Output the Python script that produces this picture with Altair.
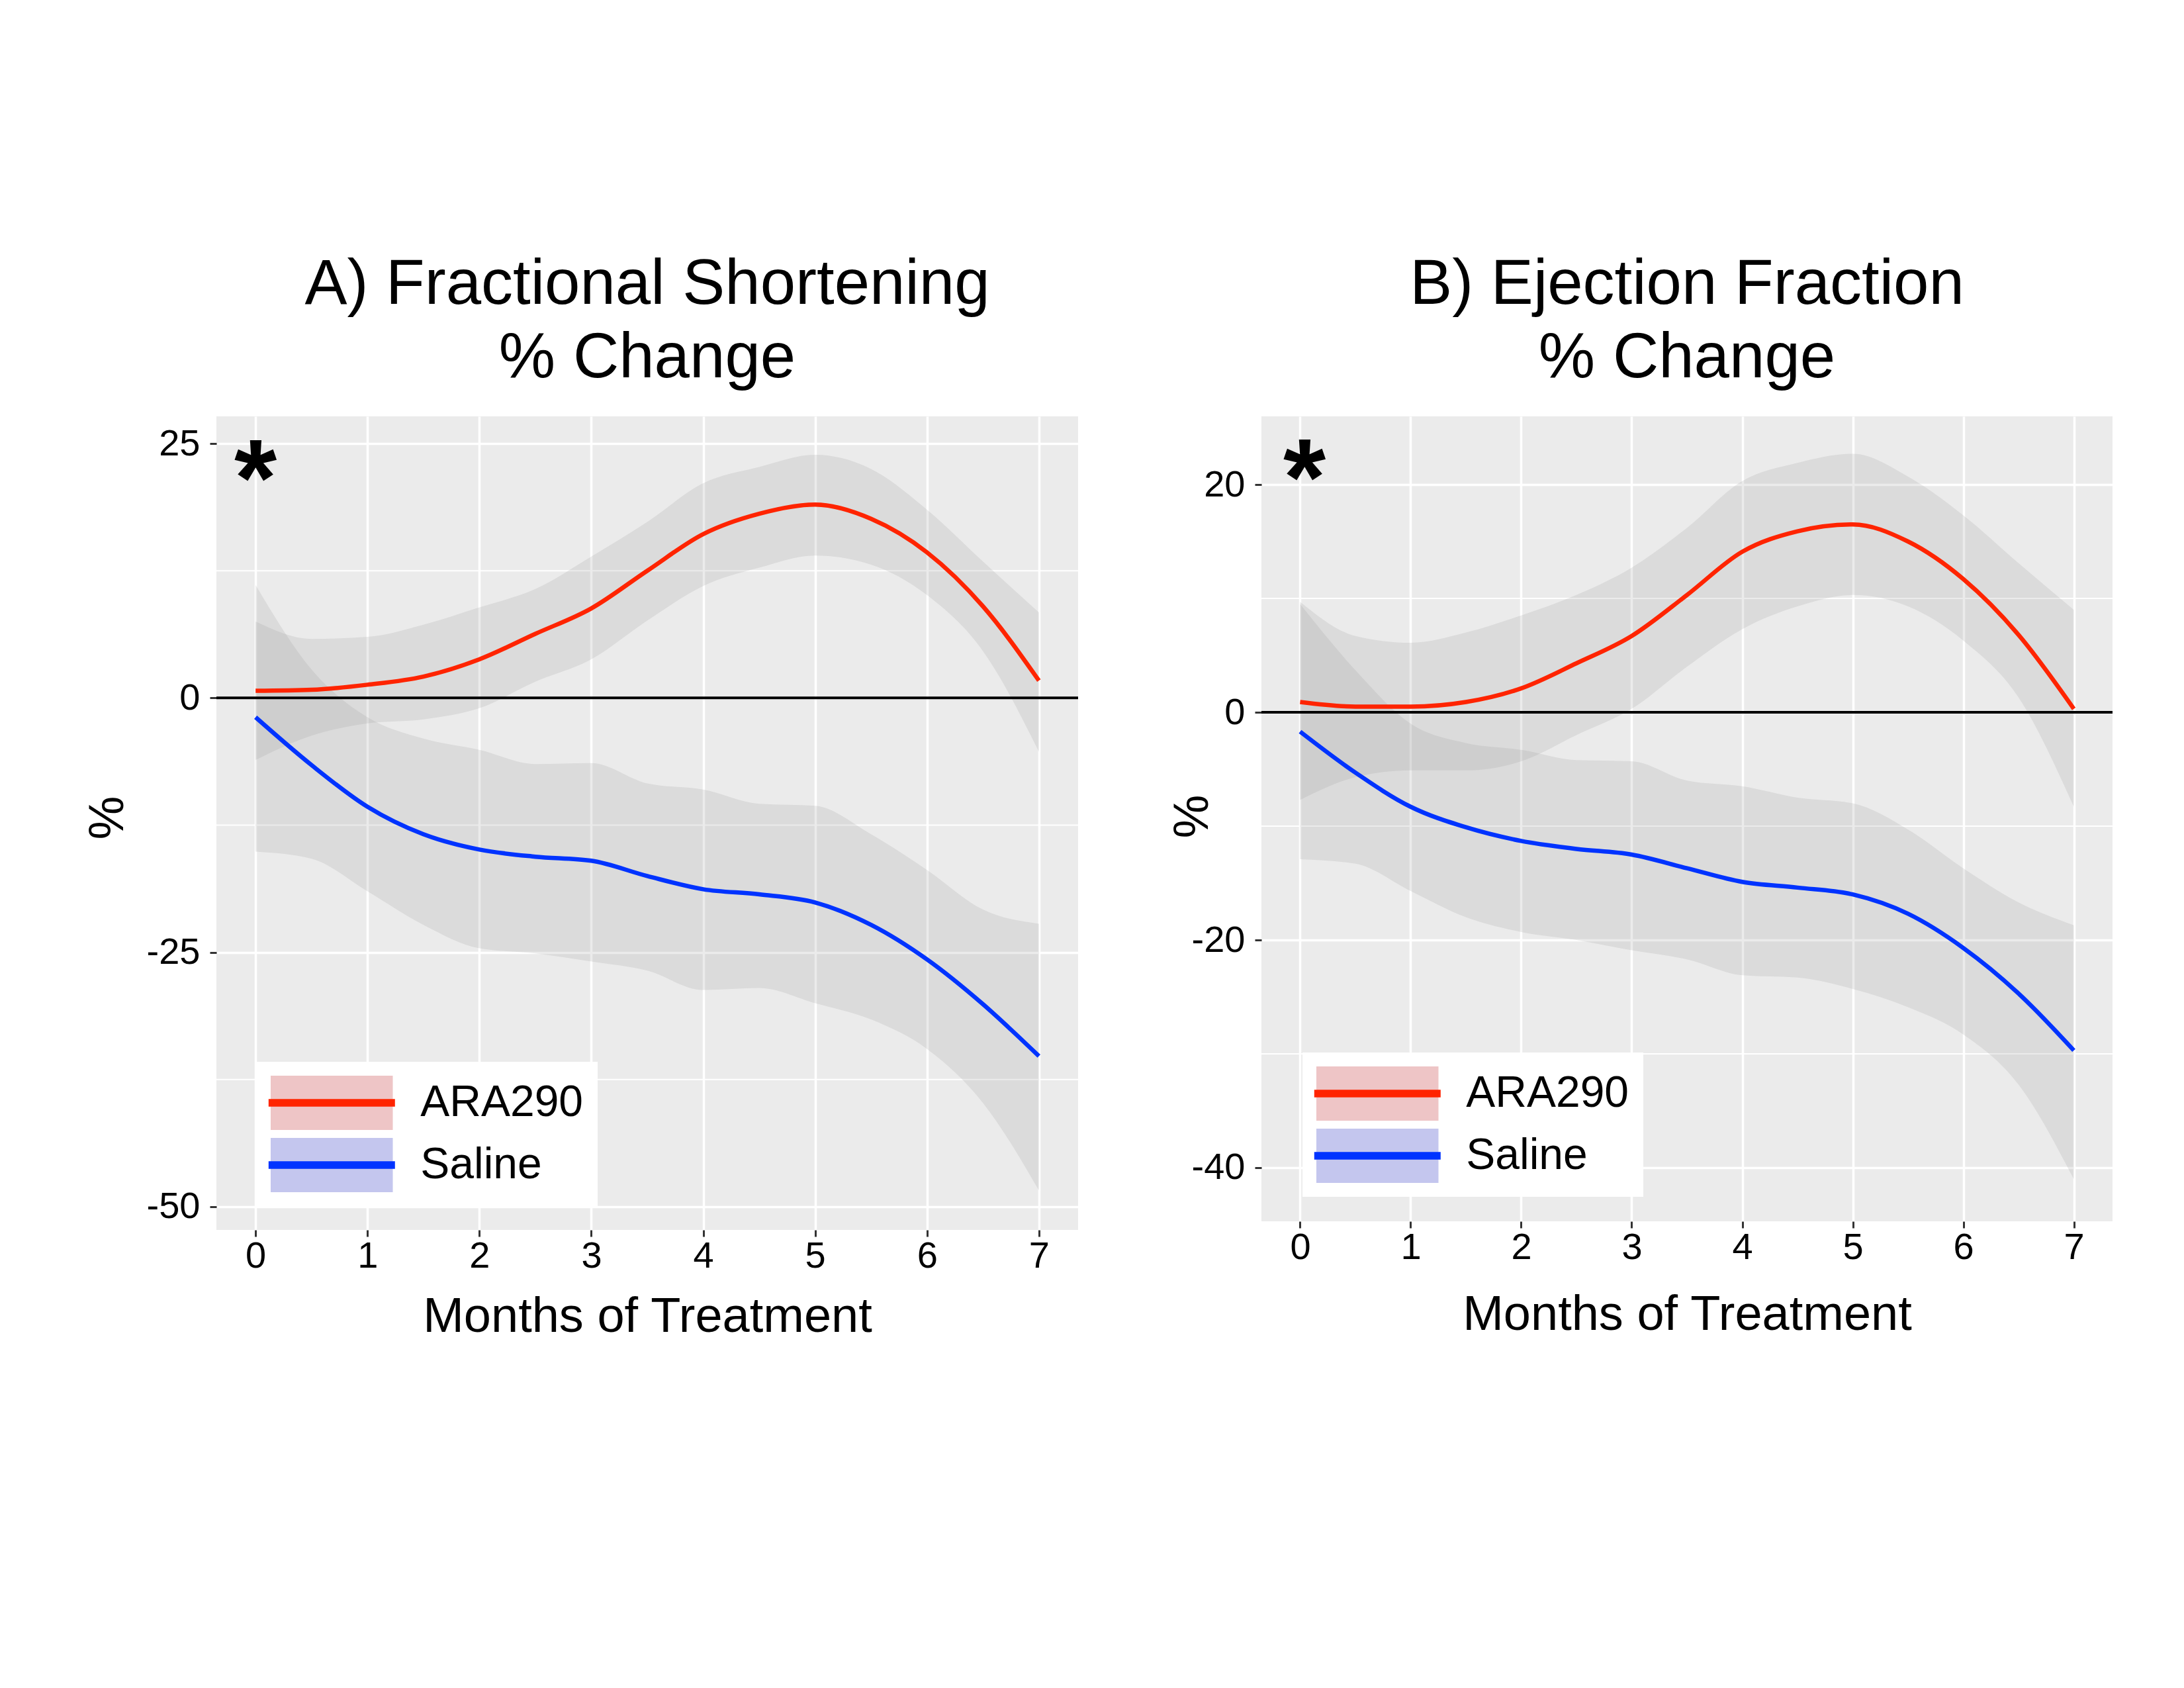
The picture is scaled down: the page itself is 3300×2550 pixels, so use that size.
import altair as alt
import pandas as pd

# ---------------- data ----------------
months = [0, 0.5, 1, 1.5, 2, 2.5, 3, 3.5, 4, 4.5, 5, 5.5, 6, 6.5, 7]
groups = ["ARA290", "Saline"]
x_ticks = [0, 1, 2, 3, 4, 5, 6, 7]

# Panel A: Fractional Shortening % change
fs_ara_fit = [0.7, 0.8, 1.3, 2.1, 3.8, 6.3, 8.8, 12.5, 16.1, 18.1, 19.0, 17.6, 14.3, 9.0, 1.7]
fs_ara_hi = [7.5, 5.8, 6.0, 7.2, 8.9, 10.7, 13.9, 17.3, 21.1, 22.7, 23.9, 22.5, 18.5, 13.4, 8.4]
fs_ara_lo = [-6.1, -3.7, -2.5, -2.1, -1.0, 1.6, 3.8, 7.6, 11.0, 12.8, 14.0, 13.1, 10.1, 4.6, -5.3]
fs_sal_fit = [-1.9, -6.6, -10.7, -13.4, -14.9, -15.6, -16.0, -17.5, -18.8, -19.3, -20.1, -22.3, -25.7, -30.1, -35.2]
fs_sal_hi = [11.1, 2.8, -1.9, -4.0, -5.1, -6.5, -6.4, -8.4, -9.0, -10.4, -10.6, -13.4, -16.9, -20.8, -22.2]
fs_sal_lo = [-15.1, -15.8, -19.0, -22.3, -24.6, -25.1, -25.9, -26.8, -28.7, -28.5, -30.0, -31.6, -34.5, -39.8, -48.4]
fs_y_domain = [-52.28, 27.67]
fs_y_ticks = [-50, -25, 0, 25]
fs_y_minor = [-37.5, -12.5, 12.5]
fs_star = (0.0, 17.9)

# Panel B: Ejection Fraction % change
ef_ara_fit = [0.9, 0.5, 0.5, 0.9, 2.1, 4.3, 6.7, 10.3, 14.1, 15.9, 16.5, 15.0, 11.7, 6.8, 0.3]
ef_ara_hi = [9.7, 6.7, 6.1, 7.0, 8.5, 10.3, 12.7, 16.2, 20.3, 21.9, 22.7, 20.7, 17.3, 13.1, 9.0]
ef_ara_lo = [-7.7, -5.7, -5.1, -5.1, -4.3, -2.0, 0.3, 4.0, 7.3, 9.3, 10.3, 9.3, 6.3, 1.3, -8.3]
ef_sal_fit = [-1.7, -5.3, -8.3, -10.1, -11.3, -12.0, -12.5, -13.7, -14.9, -15.4, -16.0, -17.7, -20.7, -24.7, -29.7]
ef_sal_hi = [9.5, 3.7, -1.0, -2.7, -3.3, -4.2, -4.3, -6.0, -6.5, -7.5, -8.0, -10.3, -13.7, -16.7, -18.7]
ef_sal_lo = [-12.9, -13.3, -15.7, -18.0, -19.3, -20.0, -20.9, -21.7, -23.1, -23.3, -24.3, -25.9, -28.3, -32.7, -41.0]
ef_y_domain = [-44.71, 25.99]
ef_y_ticks = [-40, -20, 0, 20]
ef_y_minor = [-30, -10, 10]
ef_star = (0.04, 17.3)

x_domain = [-0.35, 7.35]

# ---------------- styling ----------------
FONT = "Liberation Sans"
LINE_COLORS = ["#FF2400", "#0033FF"]
KEY_FILLS = ["#EEC5C6", "#C4C6EE"]
BG = "#EBEBEB"


def panel_df(a_fit, a_lo, a_hi, s_fit, s_lo, s_hi):
    rows = []
    for g, fit, lo, hi in ((groups[0], a_fit, a_lo, a_hi), (groups[1], s_fit, s_lo, s_hi)):
        for m, f, l, h in zip(months, fit, lo, hi):
            rows.append({"month": m, "fit": f, "lo": l, "hi": h, "group": g, "band": g})
    return pd.DataFrame(rows)


def panel(df, title_lines, y_dom, y_ticks, y_minor, star, w, h,
          ytitle_x, ytitle_y, xtitle_y, leg_x, leg_y):
    xs = alt.Scale(domain=x_domain, nice=False, zero=False)
    ys = alt.Scale(domain=y_dom, nice=False, zero=False)
    x_axis = alt.Axis(values=x_ticks, title="Months of Treatment", titleY=xtitle_y,
                      titleBaseline="alphabetic", labelPadding=2, grid=True)
    y_axis = alt.Axis(values=y_ticks, title="%", titleX=ytitle_x, titleY=ytitle_y,
                      titleAngle=270, titleAlign="center", titleBaseline="alphabetic",
                      labelPadding=15, labelExpr="'' + datum.value", grid=True)

    def X(field):
        return alt.X(field, scale=xs, axis=x_axis)

    def Y(field):
        return alt.Y(field, scale=ys, axis=y_axis)

    minor = alt.Chart(pd.DataFrame({"v": y_minor})).mark_rule(
        color="white", strokeWidth=2
    ).encode(y=Y("v:Q"))

    band = alt.Chart(df).mark_area(
        color="#999999", opacity=0.2, interpolate="monotone"
    ).encode(
        x=X("month:Q"),
        y=Y("lo:Q"),
        y2="hi:Q",
        detail="group:N",
    )

    zero = alt.Chart(pd.DataFrame({"v": [0]})).mark_rule(
        color="black", strokeWidth=4
    ).encode(y=Y("v:Q"))

    # legend key background: light coloured rectangles (separate legend on the fill channel)
    key_fill = alt.Chart(df).mark_point(
        shape="square", filled=True, opacity=0, size=1
    ).encode(
        x=X("month:Q"),
        y=Y("fit:Q"),
        fill=alt.Fill(
            "band:N",
            scale=alt.Scale(range=KEY_FILLS),
            legend=alt.Legend(
                title=None, orient="none", legendX=leg_x, legendY=leg_y,
                padding=21, fillColor="white",
                symbolType="M-2.25,-1H2.25V1H-2.25Z", symbolSize=6724,
                symbolOffset=51.25,
                symbolStrokeWidth=0, symbolOpacity=1,
                labelFont=FONT, labelFontSize=66, labelColor="black",
                labelOffset=93, labelLimit=0, rowPadding=12, zindex=1,
            ),
        ),
    )

    line = alt.Chart(df).mark_line(
        strokeWidth=6.5, interpolate="monotone"
    ).encode(
        x=X("month:Q"),
        y=Y("fit:Q"),
        stroke=alt.Stroke(
            "group:N",
            scale=alt.Scale(domain=groups, range=LINE_COLORS),
            legend=alt.Legend(
                title=None, orient="none", legendX=leg_x, legendY=leg_y,
                padding=21, symbolType="M-2.709,0H2.709", symbolSize=4970.25,
                symbolOffset=51.3,
                symbolStrokeWidth=11.5, symbolOpacity=1,
                labelFont=FONT, labelFontSize=66, labelOpacity=0,
                labelOffset=93, labelLimit=0, rowPadding=20, zindex=2,
            ),
        ),
    )

    star_df = pd.DataFrame({"sx": [star[0]], "sy": [star[1]]})
    star_mark = alt.Chart(star_df).mark_text(
        text="*", font=FONT, fontWeight="bold", fontSize=165,
        align="center", baseline="alphabetic", color="black"
    ).encode(
        x=X("sx:Q"),
        y=Y("sy:Q"),
    )

    return alt.layer(minor, band, zero, key_fill, line, star_mark).properties(
        width=w, height=h,
        title=alt.TitleParams(
            text=title_lines, font=FONT, fontSize=96, fontWeight="normal",
            lineHeight=111, anchor="middle", offset=39, color="black",
        ),
    )


df_a = panel_df(fs_ara_fit, fs_ara_lo, fs_ara_hi, fs_sal_fit, fs_sal_lo, fs_sal_hi)
df_b = panel_df(ef_ara_fit, ef_ara_lo, ef_ara_hi, ef_sal_fit, ef_sal_lo, ef_sal_hi)

panel_a = panel(df_a, ["A) Fractional Shortening", "% Change"], fs_y_domain, fs_y_ticks,
                fs_y_minor, fs_star, 1302, 1229,
                ytitle_x=-142, ytitle_y=606, xtitle_y=153,
                leg_x=61, leg_y=975)
panel_b = panel(df_b, ["B) Ejection Fraction", "% Change"], ef_y_domain, ef_y_ticks,
                ef_y_minor, ef_star, 1286, 1216,
                ytitle_x=-82, ytitle_y=604, xtitle_y=163,
                leg_x=62, leg_y=961)

chart = alt.hconcat(panel_a, panel_b, spacing=134).resolve_scale(
    x="independent", y="independent", fill="independent", stroke="independent"
).resolve_legend(
    fill="independent", stroke="independent"
).properties(
    padding={"left": 118, "top": 374, "right": 10, "bottom": 10},
    background="white",
).configure(
    font=FONT
).configure_view(
    fill=BG, strokeWidth=0
).configure_axis(
    gridColor="white", gridWidth=3.5, domain=False,
    tickColor="#333333", tickSize=10, tickWidth=3,
    labelColor="black", labelFont=FONT, labelFontSize=56,
    titleColor="black", titleFont=FONT, titleFontSize=74, titleFontWeight="normal",
)

chart.save("out.html", embed_options={"renderer": "svg", "actions": False})
